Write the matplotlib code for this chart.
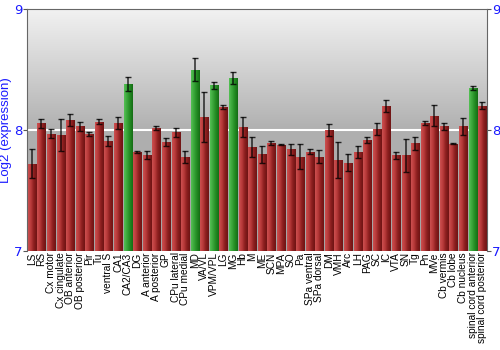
import numpy as np
import matplotlib
matplotlib.use('Agg')
import matplotlib.pyplot as plt
from matplotlib.colors import LinearSegmentedColormap

regions = ['LS', 'RS', 'Cx motor', 'Cx cingulate', 'OB anterior', 'OB posterior', 'Pir', 'Tu',
           'ventral S', 'CA1', 'CA2/CA3', 'DG', 'A anterior', 'A posterior', 'GP', 'CPu lateral',
           'CPu medial', 'MD', 'VA/VL', 'VPM/VPL', 'LG', 'MG', 'Hb', 'M', 'ME', 'SCN', 'MPA', 'SO',
           'Pa', 'SPa ventral', 'SPa dorsal', 'DM', 'VMH', 'Arc', 'LH', 'PAG', 'SC', 'IC', 'VTA',
           'SN', 'Tg', 'Pn', 'MVe', 'Cb vermis', 'Cb lobe', 'Cb nucleus', 'spinal cord anterior',
           'spinal cord posterior']
expr = [7.72, 8.055, 7.97, 7.96, 8.08, 8.03, 7.97, 8.07, 7.91, 8.06, 8.38, 7.82, 7.79, 8.02,
        7.90, 7.98, 7.78, 8.50, 8.11, 8.37, 8.19, 8.43, 8.025, 7.86, 7.80, 7.89, 7.88, 7.84,
        7.78, 7.82, 7.78, 8.00, 7.75, 7.73, 7.82, 7.92, 8.005, 8.20, 7.79, 7.79, 7.89, 8.055,
        8.12, 8.03, 7.885, 8.03, 8.345, 8.20]
err = [0.12, 0.04, 0.04, 0.13, 0.05, 0.035, 0.017, 0.02, 0.04, 0.05, 0.055, 0.007, 0.033, 0.017,
       0.035, 0.04, 0.05, 0.095, 0.205, 0.03, 0.014, 0.047, 0.085, 0.08, 0.07, 0.017, 0.003, 0.048,
       0.105, 0.022, 0.052, 0.052, 0.15, 0.07, 0.048, 0.026, 0.05, 0.05, 0.032, 0.135, 0.052, 0.017,
       0.09, 0.028, 0.004, 0.07, 0.017, 0.03]
highlight = ['CA2/CA3', 'MD', 'VPM/VPL', 'MG', 'spinal cord anterior']

blue = '#1a1aff'
fig = plt.figure(figsize=(5, 3.5), dpi=100)
ax = fig.add_axes([0.054, 0.283, 0.92, 0.691])
ax.set_xlim(-0.5, len(regions) - 0.5)
ax.set_ylim(7, 9)

# background gradient
bg = LinearSegmentedColormap.from_list('bg', [(0, '#a4a4a4'), (0.5, '#b0b0b0'), (1, '#f2f2f2')])
grad = np.linspace(0, 1, 256).reshape(-1, 1)
ax.imshow(grad, cmap=bg, aspect='auto', extent=(-0.5, len(regions) - 0.5, 7, 9),
          origin='lower', zorder=0)
ax.axhline(8, color='white', lw=1.5, zorder=1)

red_cm = LinearSegmentedColormap.from_list('r', ['#cc5050', '#b83a3a', '#8a1e1e', '#6e1414'])
green_cm = LinearSegmentedColormap.from_list('g', ['#55c055', '#3aa63a', '#228a22', '#156c15'])
hgrad = np.linspace(0, 1, 64).reshape(1, -1)

x = np.arange(len(regions))
w = 0.84
bars = ax.bar(x, np.array(expr) - 7, bottom=7, width=w, color='none', edgecolor='none', zorder=2)
for i, b in enumerate(bars):
    cm = green_cm if regions[i] in highlight else red_cm
    im = ax.imshow(hgrad, cmap=cm, aspect='auto', zorder=2,
                   extent=(x[i] - w / 2, x[i] + w / 2, 7, expr[i]))
    im.set_clip_path(b)

ax.errorbar(x, expr, yerr=err, fmt='none', ecolor='black', elinewidth=1.1,
            capsize=2, capthick=1, alpha=0.8, zorder=3)

ax.set_xticks(x)
ax.set_xticklabels(regions, rotation=90, fontsize=7.3, family='Liberation Sans')
ax.tick_params(axis='x', length=0, pad=1)
ax.set_yticks([7, 8, 9])
ax.tick_params(axis='y', colors='#555555', labelcolor=blue, labelsize=9.5, length=3,
               right=True, labelright=True, pad=0.5)
ax.set_ylabel('Log2 (expression)', color=blue, fontsize=9.5, family='Liberation Sans')
ax.yaxis.set_label_coords(-0.032, 0.5)
for s in ax.spines.values():
    s.set_color('#666666')
ax.spines['bottom'].set_visible(False)

fig.savefig('out.png', dpi=100)
